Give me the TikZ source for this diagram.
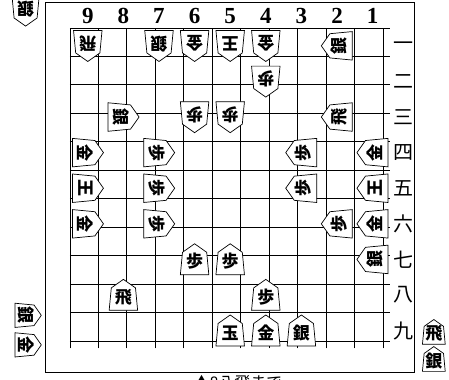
\documentclass[tikz,border=0pt]{standalone}
\usepackage{fontspec}
\setmainfont{Liberation Serif}
\newfontfamily\jpfont{Noto Sans CJK JP}
\tikzset{every path/.style={line width=0.8pt}}
\tikzset{
  koma/.style={draw,fill=white,line width=0.7pt},
  komaji/.style={font=\jpfont\bfseries\fontsize{17}{17}\selectfont,inner sep=0pt},
  suji/.style={font=\bfseries\fontsize{23}{23}\selectfont,inner sep=0pt},
  dan/.style={font=\jpfont\fontsize{20}{20}\selectfont,inner sep=0pt},
}
% piece: [scale]{name}{x}{y}{angle}{letter}
\newcommand{\koma}[6][1]{%
  \begin{scope}[shift={(#3,#4)},rotate=#5,scale=#1]
    \draw[koma] (0,0.44) -- (0.34,0.2) -- (0.40,-0.43) -- (-0.40,-0.43) -- (-0.34,0.2) -- cycle;
    \node[komaji,rotate=#5] (#2) at (0,-0.06) {#6};
  \end{scope}}

\begin{document}
\begin{tikzpicture}[x=35.6pt,y=35.6pt]
    \useasboundingbox (-1.966,0.787) rectangle (10.646,-9.86);

    \draw (-0.702,0.716) rectangle (9.663,-9.663);
    \draw[line width=0.9pt] (0,0) grid (9,-9);

    \foreach \c in {1,...,9}
      \node[suji] (suji\c) at (9.5-\c,0.345) {\c};
    \foreach \k [count=\r] in {一,二,三,四,五,六,七,八,九}
      \node[dan] (dan\r) at (9.36,0.5-\r) {\k};

    % top player
    \foreach \c/\r/\k in {9/1/飛,7/1/銀,6/1/金,5/1/王,4/1/金,4/2/歩,6/3/歩,5/3/歩}
      {\koma{p\c\r}{9.5-\c}{0.5-\r}{180}{\k}}
    % left player
    \foreach \c/\r/\k in {8/3/銀,9/4/金,7/4/歩,9/5/王,7/5/歩,9/6/金,7/6/歩}
      {\koma{p\c\r}{9.5-\c}{0.5-\r}{-90}{\k}}
    % right player
    \foreach \c/\r/\k in {2/1/銀,2/3/飛,3/4/歩,1/4/金,3/5/歩,1/5/王,2/6/歩,1/6/金,1/7/銀}
      {\koma{p\c\r}{9.5-\c}{0.5-\r}{90}{\k}}
    % bottom player
    \foreach \c/\r/\k in {6/7/歩,5/7/歩,8/8/飛,4/8/歩,5/9/玉,4/9/金,3/9/銀}
      {\koma{p\c\r}{9.5-\c}{0.5-\r}{0}{\k}}

    % pieces in hand
    \koma[0.95]{mochiA}{-1.247}{0.472}{180}{銀}
    \koma[0.85]{mochiB}{-1.18}{-8.07}{-90}{銀}
    \koma[0.85]{mochiC}{-1.18}{-8.90}{-90}{金}
    \koma[0.8]{mochiD}{10.22}{-8.54}{0}{飛}
    \koma[0.8]{mochiE}{10.22}{-9.30}{0}{銀}

    \node[font=\jpfont\fontsize{16}{16}\selectfont,inner sep=0pt] (kifu) at (4.72,-9.97) {▲8八飛まで};
\end{tikzpicture}
\end{document}
